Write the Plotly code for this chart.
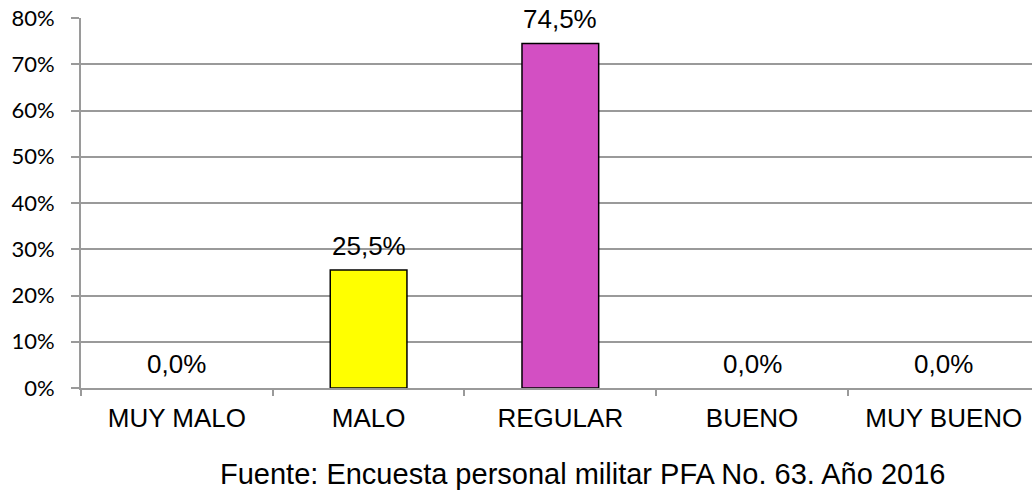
import plotly.graph_objects as go

categories = ["MUY MALO", "MALO", "REGULAR", "BUENO", "MUY BUENO"]
values = [0.0, 25.5, 74.5, 0.0, 0.0]
colors = ["#FFFF00", "#FFFF00", "#D34FC3", "#D34FC3", "#D34FC3"]
y_ticks = [0, 10, 20, 30, 40, 50, 60, 70, 80]
source_text = "Fuente: Encuesta personal militar PFA No. 63. Año 2016"

GRID = "#9A9A9A"
ARIAL = "Liberation Sans, Arial, sans-serif"

fig = go.Figure()
fig.add_trace(go.Bar(
    x=categories, y=values, width=0.4,
    marker=dict(color=colors,
                line=dict(color="#000000", width=[1.5 if v > 0 else 0 for v in values])),
    hoverinfo="skip",
))

for c, v in zip(categories, values):
    fig.add_annotation(
        x=c, y=v, xref="x", yref="y",
        text=f"{v:.1f}%".replace(".", ","),
        showarrow=False, yanchor="bottom", yshift=7,
        font=dict(family=ARIAL, size=26, color="#000000"),
    )

fig.add_annotation(
    x=0.527, y=-0.232, xref="paper", yref="paper",
    text=source_text, showarrow=False, xanchor="center", yanchor="middle",
    font=dict(family=ARIAL, size=29, color="#000000"),
)

fig.update_layout(
    width=1032, height=490,
    margin=dict(l=81, r=0, t=18, b=102),
    plot_bgcolor="white", paper_bgcolor="white",
    showlegend=False,
    xaxis=dict(
        type="category", range=[-0.5, 4.46],
        tickson="boundaries", ticks="outside", ticklen=6, tickwidth=2, tickcolor=GRID,
        showline=True, linecolor=GRID, linewidth=2,
        showgrid=False,
        tickfont=dict(family=ARIAL, size=26, color="#000000"),
        ticklabelstandoff=6,
    ),
    yaxis=dict(
        range=[0, 80], tickvals=y_ticks, ticktext=[f"{t}%" for t in y_ticks],
        ticks="outside", ticklen=8, tickwidth=2, tickcolor=GRID,
        showgrid=True, gridcolor=GRID, gridwidth=2,
        showline=True, linecolor=GRID, linewidth=2,
        zeroline=False,
        tickfont=dict(family="Lato, Liberation Sans, sans-serif", size=22, color="#000000"),
        ticklabelstandoff=12,
        ticklabeloverflow="allow",
    ),
)

fig.write_html("out.html", config={"displayModeBar": False},
               post_script="document.body.style.margin='0px';")
